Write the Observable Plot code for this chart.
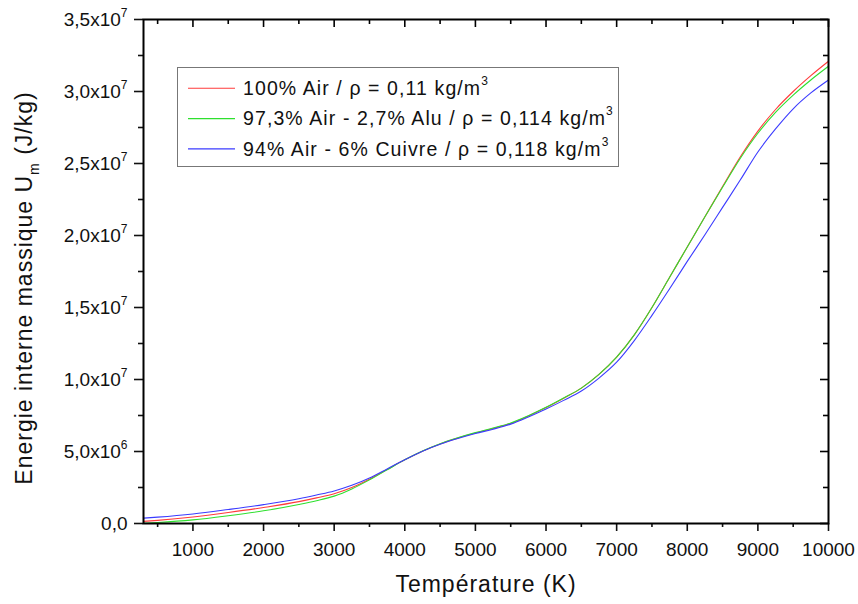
<!DOCTYPE html>
<html><head><meta charset="utf-8">
<script src="https://cdn.jsdelivr.net/npm/d3@7"></script>
<script src="https://cdn.jsdelivr.net/npm/@observablehq/plot@0.6"></script>
<style>
body{margin:0;background:#fff;}
#chart{position:relative;width:858px;height:604px;}
</style></head><body><div id="chart"></div>
<script>
// Temperature (K)
const temperatures = [300,500,1000,1500,2000,2500,2750,3000,3250,3500,3750,4000,4250,4500,4750,5000,5250,5500,5750,6000,6250,6500,6750,7000,7250,7500,7750,8000,8250,8500,8750,9000,9250,9500,9750,10000];
// Internal energy, in units of 1e6 J/kg
const uAir    = [0.15,0.22,0.45,0.76,1.11,1.52,1.78,2.07,2.50,3.08,3.75,4.42,5.02,5.52,5.93,6.28,6.60,6.95,7.47,8.05,8.70,9.40,10.35,11.55,13.1,15.0,17.1,19.2,21.3,23.4,25.45,27.25,28.75,30.0,31.1,32.1];
const uAlu    = [0.02,0.07,0.25,0.54,0.88,1.32,1.58,1.90,2.40,3.03,3.73,4.42,5.03,5.54,5.95,6.31,6.63,6.98,7.49,8.07,8.72,9.40,10.35,11.55,13.1,15.0,17.1,19.2,21.3,23.35,25.35,27.1,28.55,29.75,30.8,31.75];
const uCuivre = [0.37,0.44,0.66,0.97,1.31,1.72,1.98,2.26,2.65,3.16,3.79,4.43,5.02,5.50,5.90,6.25,6.55,6.90,7.40,7.95,8.55,9.20,10.10,11.20,12.70,14.45,16.30,18.20,20.05,21.95,23.85,25.80,27.40,28.80,29.90,30.80];

const seriesKeys = ["air","alu","cuivre"];
const seriesLabels = ["100% Air / ρ = 0,11 kg/m", "97,3% Air - 2,7% Alu / ρ = 0,114 kg/m", "94% Air - 6% Cuivre / ρ = 0,118 kg/m"];
const seriesSup = ["3","3","3"];
const seriesColors = ["#ff3b3b","#2ee02e","#3b3bff"];

const xMajorTicks = [1000,2000,3000,4000,5000,6000,7000,8000,9000,10000];
const xMinorTicks = [500,1500,2500,3500,4500,5500,6500,7500,8500,9500];
const yMajorTicks = [0,5e6,1e7,1.5e7,2e7,2.5e7,3e7,3.5e7];
const yMinorTicks = [2.5e6,7.5e6,1.25e7,1.75e7,2.25e7,2.75e7,3.25e7];
const yTickLabels = ["0,0","5,0x10^6","1,0x10^7","1,5x10^7","2,0x10^7","2,5x10^7","3,0x10^7","3,5x10^7"];

const xTitle = "Température (K)";
const yTitleMain = "Energie interne massique U";
const yTitleSub = "m";
const yTitleEnd = " (J/kg)";

const seriesValues = [uAir, uAlu, uCuivre];
const rows = [];
seriesValues.forEach((vals, i) => vals.forEach((v, j) => rows.push({T: temperatures[j], U: v * 1e6, s: seriesKeys[i]})));

const W = 858, H = 604, ML = 143, MR = 30, MT = 19, MB = 81;
const innerW = W - ML - MR, innerH = H - MT - MB;
const FONT = '"Liberation Sans", Arial, sans-serif';
const tk = {stroke: "#000", strokeWidth: 1.6};
const chart = Plot.plot({
  width: W, height: H,
  marginLeft: ML, marginRight: MR, marginTop: MT, marginBottom: MB,
  style: {fontFamily: FONT, fontSize: "19px", color: "#111", background: "white", overflow: "visible"},
  x: {domain: [300, 10000]},
  y: {domain: [0, 3.5e7]},
  color: {domain: seriesKeys, range: seriesColors},
  marks: [
    Plot.line(rows, {x: "T", y: "U", z: "s", stroke: "s", strokeWidth: 1.1, curve: "monotone-x"}),
    Plot.axisX(xMajorTicks, {anchor: "bottom", tickSize: 8, tickPadding: 11, strokeWidth: 1.6, tickFormat: d => String(d), label: null}),
    Plot.axisX(xMinorTicks, {anchor: "bottom", tickSize: 4, strokeWidth: 1.6, fill: "none", label: null}),
    Plot.axisY(yMajorTicks, {anchor: "left", tickSize: 9, tickPadding: 7, strokeWidth: 1.6, tickFormat: d => yTickLabels[yMajorTicks.indexOf(d)], label: null}),
    Plot.axisY(yMinorTicks, {anchor: "left", tickSize: 5, strokeWidth: 1.6, fill: "none", label: null}),
    // inward ticks on the top and right sides
    Plot.tickX(xMajorTicks, {x: d => d, insetBottom: innerH - 8, ...tk}),
    Plot.tickX(xMinorTicks, {x: d => d, insetBottom: innerH - 5, ...tk}),
    Plot.tickY(yMajorTicks, {y: d => d, insetLeft: innerW - 8, ...tk}),
    Plot.tickY(yMinorTicks, {y: d => d, insetLeft: innerW - 5, ...tk}),
    Plot.frame({stroke: "#000", strokeWidth: 2})
  ]
});
document.getElementById("chart").appendChild(chart);

const svg = d3.select(chart);
// superscripts in y tick labels
svg.selectAll('g[aria-label="y-axis tick label"] text').each(function() {
  const t = this.textContent;
  if (t.includes("^")) {
    const [base, sup] = t.split("^");
    this.textContent = base;
    d3.select(this).append("tspan").attr("font-size", 12).attr("dy", -9).text(sup);
  }
});

// axis titles
svg.append("text").attr("x", 486).attr("y", 592).attr("text-anchor", "middle")
  .attr("font-family", FONT).attr("font-size", 23).attr("letter-spacing", 1).attr("fill", "#111").text(xTitle);
const yt = svg.append("text").attr("transform", "translate(32,288) rotate(-90)").attr("text-anchor", "middle")
  .attr("font-family", FONT).attr("font-size", 23).attr("letter-spacing", 1).attr("fill", "#111");
yt.append("tspan").text(yTitleMain);
yt.append("tspan").attr("font-size", 14).attr("dy", 7).text(yTitleSub);
yt.append("tspan").attr("dy", -7).text(yTitleEnd);

// legend
const lg = svg.append("g");
lg.append("rect").attr("x", 177.5).attr("y", 67.5).attr("width", 441).attr("height", 99)
  .attr("fill", "white").attr("stroke", "#777").attr("stroke-width", 1);
seriesLabels.forEach((lab, i) => {
  const base = 95 + i * 30.3;
  lg.append("line").attr("x1", 188).attr("x2", 235).attr("y1", base - 6.7).attr("y2", base - 6.7)
    .attr("stroke", seriesColors[i]).attr("stroke-width", 1.1);
  const tx = lg.append("text").attr("x", 243).attr("y", base).attr("text-anchor", "start").attr("font-family", FONT)
    .attr("font-size", 19.5).attr("letter-spacing", 1.1).attr("fill", "#111");
  tx.append("tspan").text(lab);
  tx.append("tspan").attr("font-size", 12).attr("dy", -10).text(seriesSup[i]);
});
</script>
</body></html>
